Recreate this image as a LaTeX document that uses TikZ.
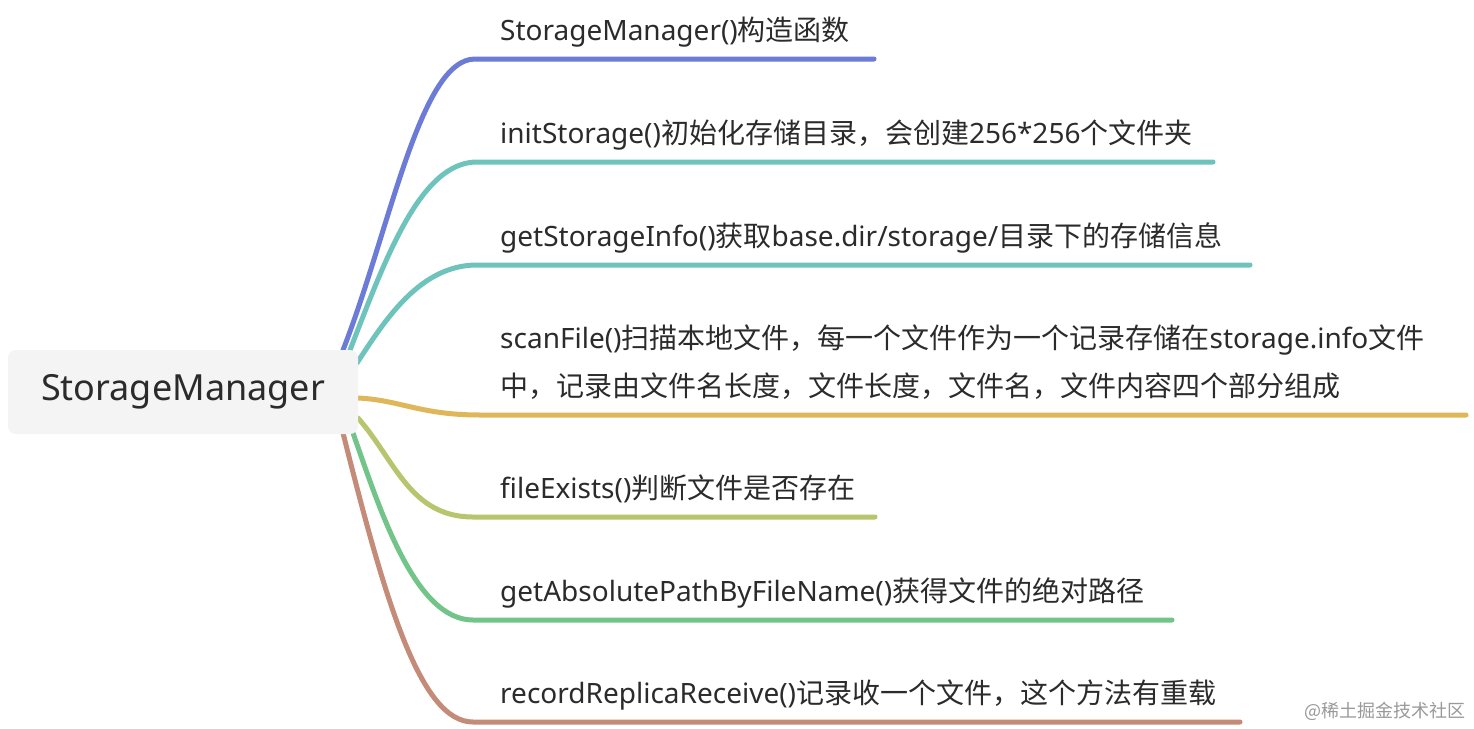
\documentclass[tikz,border=0pt]{standalone}
\usepackage{fontspec}
\setmainfont{Noto Sans}
\newfontfamily\latinfont{Noto Sans}
\newfontfamily\cjkfont{Noto Sans CJK SC}
\XeTeXinterchartokenstate=1
\newXeTeXintercharclass\CJKcls
\newcount\mycnt
\mycnt="4E00
\loop\ifnum\mycnt<"A000 \XeTeXcharclass\mycnt=\CJKcls \advance\mycnt by 1 \repeat
\XeTeXcharclass"FF0C=\CJKcls
\XeTeXinterchartoks 0 \CJKcls = {\cjkfont}
\XeTeXinterchartoks 4095 \CJKcls = {\cjkfont}
\XeTeXinterchartoks \CJKcls 0 = {\latinfont}
\definecolor{cBlue}{HTML}{6B7BD6}
\definecolor{cTeal}{HTML}{6EC4BD}
\definecolor{cGold}{HTML}{DFB75A}
\definecolor{cOlive}{HTML}{B7C66E}
\definecolor{cGreen}{HTML}{72C489}
\definecolor{cBrown}{HTML}{C38B78}
\definecolor{cText}{HTML}{2B2B2B}
\definecolor{cRoot}{HTML}{F4F4F4}
\begin{document}
\begin{tikzpicture}[x=1pt,y=-1pt,
  branch/.style={line width=5pt,line cap=round},
  leaf/.style={anchor=base west,inner sep=0pt,text=cText,font=\fontsize{28}{48}\selectfont},
  rootbox/.style={fill=cRoot,rounded corners=8pt,minimum width=350pt,minimum height=84pt,inner sep=0pt,text=cText,font=\fontsize{36}{40}\selectfont}]
\useasboundingbox (0,0) rectangle (1474,728);
\fill[white] (0,0) rectangle (1474,728);
% curve start points (on the root box edge) and ends
\coordinate (s1) at (343,350); \coordinate (e1) at (874,59);
\coordinate (s2) at (350,350); \coordinate (e2) at (1213,162);
\coordinate (s3) at (357,363); \coordinate (e3) at (1250,265);
\coordinate (s4) at (358,398); \coordinate (e4) at (1466,415);
\coordinate (s5) at (358,418); \coordinate (e5) at (875,517);
\coordinate (s6) at (353,433); \coordinate (e6) at (1172,620);
\coordinate (s7) at (343,433); \coordinate (e7) at (1240,722);
\draw[branch,cBlue]  (s1) .. controls (390,230) and (420,59) .. (475,59) -- (e1);
\draw[branch,cTeal]  (s2) .. controls (385,260) and (420,162) .. (477,162) -- (e2);
\draw[branch,cTeal]  (s3) .. controls (385,320) and (420,265) .. (477,265) -- (e3);
\draw[branch,cGold]  (s4) .. controls (400,400) and (420,415) .. (480,415) -- (e4);
\draw[branch,cOlive] (s5) .. controls (395,460) and (410,517) .. (473,517) -- (e5);
\draw[branch,cGreen] (s6) .. controls (380,510) and (415,620) .. (473,620) -- (e6);
\draw[branch,cBrown] (s7) .. controls (385,600) and (420,722) .. (473,722) -- (e7);
\node[rootbox] (root) at (183,392) {StorageManager};
\node[leaf] (t1) at (500,40) {StorageManager()构造函数};
\node[leaf] (t2) at (500,143) {initStorage()初始化存储目录，会创建256*256个文件夹};
\node[leaf] (t3) at (500,246) {getStorageInfo()获取base.dir/storage/目录下的存储信息};
\node[leaf] (t4a) at (500,348) {scanFile()扫描本地文件，每一个文件作为一个记录存储在storage.info文件};
\node[leaf] (t4b) at (500,396) {中，记录由文件名长度，文件长度，文件名，文件内容四个部分组成};
\node[leaf] (t5) at (500,498) {fileExists()判断文件是否存在};
\node[leaf] (t6) at (500,601) {getAbsolutePathByFileName()获得文件的绝对路径};
\node[leaf] (t7) at (500,703) {recordReplicaReceive()记录收一个文件，这个方法有重载};
\node[anchor=base east,inner sep=0pt,text=black!40,font=\cjkfont\fontsize{18}{20}\selectfont] (wm) at (1466,717) {@稀土掘金技术社区};
\end{tikzpicture}
\end{document}
